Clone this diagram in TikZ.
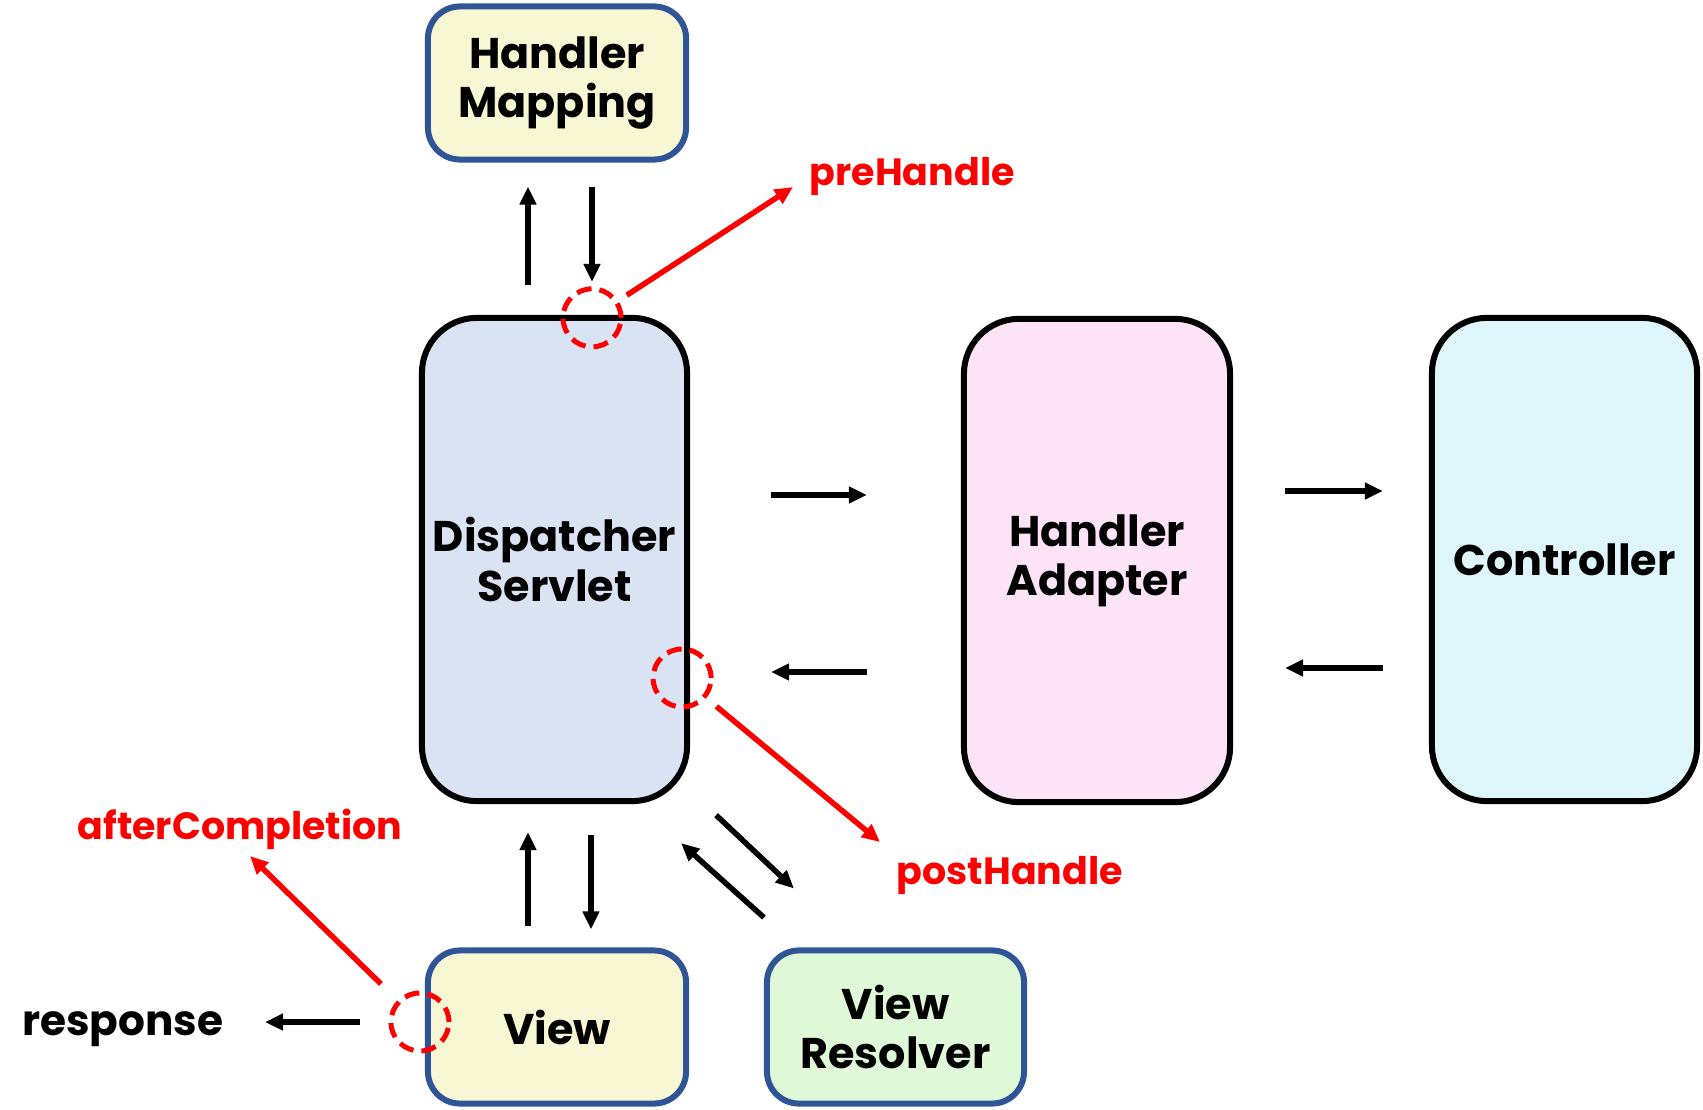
\documentclass[tikz,border=0pt]{standalone}
\usepackage{fontspec}
\setmainfont{Poppins}
\usepackage{xcolor}
\usetikzlibrary{calc,arrows.meta,positioning}
\definecolor{frameblue}{HTML}{2F5597}
\definecolor{fillyellow}{HTML}{F7F7D4}
\definecolor{fillblue}{HTML}{DAE3F3}
\definecolor{fillpink}{HTML}{FCE4F6}
\definecolor{fillcyan}{HTML}{DEF6FA}
\definecolor{fillgreen}{HTML}{DEF8D8}
\tikzset{
  tall/.style={ % image of a tall component box
    draw=black, line width=0.06cm, rectangle, rounded corners=0.55cm,
    minimum width=2.65cm, minimum height=4.83cm, inner sep=0pt,
    align=center, text=black, font=\bfseries\fontsize{12.2}{14}\selectfont
  },
  short/.style={  % image of a small component box
    tall, draw=frameblue, rounded corners=0.32cm,
    minimum width=2.58cm, minimum height=1.53cm
  },
  flow/.style={line width=0.055cm, -{Triangle[length=0.18cm,width=0.16cm]}},
  hook/.style={flow, red},
  spot/.style={  % dashed ring where an interceptor hooks in
    circle, draw=red, line width=0.05cm, dash pattern=on 0.15cm off 0.08cm,
    minimum size=0.58cm, inner sep=0pt
  },
  hooklabel/.style={text=red, inner sep=0pt, font=\bfseries\fontsize{10.8}{13}\selectfont}
}
\begin{document}
\begin{tikzpicture}[x=0.01cm, y=-0.01cm]
  \useasboundingbox (0,0) rectangle (1703,1109);

  \node[short, fill=fillyellow] (HM) at (557,83) {Handler\\Mapping};
  \node[tall, fill=fillblue] (DS) at (554.5,559.5) {Dispatcher\\Servlet};
  \node[tall, fill=fillpink, minimum width=2.66cm] (HA) at (1097,560.5) {Handler\\Adapter};
  \node[tall, fill=fillcyan] (C) at (1564.5,559.5) {Controller};
  \node[short, fill=fillyellow] (V) at (557,1027) {View};
  \node[short, fill=fillgreen, minimum width=2.57cm] (VR) at (895.5,1027) {View\\Resolver};

  \node[spot] (pre_spot) at ($(DS.north)+(37.5,3)$) {};
  \node[spot] (post_spot) at ($(DS.east)+(-8,118.5)$) {};
  \node[spot] (after_spot) at ($(V.west)+(-5,-5)$) {};

  \node[hooklabel, anchor=west] (pre_label) at (809,176) {preHandle};
  \node[hooklabel, anchor=west] (post_label) at (896,875) {postHandle};
  \node[hooklabel] (after_label) at (240,829) {afterCompletion};
  \node[inner sep=0pt, anchor=east, font=\bfseries\fontsize{12}{14}\selectfont] (resp) at (224,1029) {response};

  \draw[flow] ($(DS.north)+(-26.5,-30)$) -- ($(HM.south)+(-29,24)$);
  \draw[flow] ($(HM.south)+(35,24)$) -- ($(DS.north)+(37.5,-33)$);
  \draw[flow] ($(DS.east)+(81,-64.5)$) -- ($(HA.west)+(-94,-65.5)$);
  \draw[flow] ($(HA.west)+(-94,111.5)$) -- ($(DS.east)+(81,112.5)$);
  \draw[flow] ($(HA.east)+(52,-69.5)$) -- ($(C.west)+(-46,-68.5)$);
  \draw[flow] ($(C.west)+(-46,108.5)$) -- ($(HA.east)+(52,107.5)$);
  \draw[flow] ($(V.north)+(-29,-21)$) -- ($(DS.south)+(-26.5,28)$);
  \draw[flow] ($(DS.south)+(36.5,31)$) -- ($(V.north)+(34,-18)$);
  \draw[flow] ($(DS.south east)+(26,11)$) -- ($(VR.north west)+(30,-59)$);
  \draw[flow] ($(VR.north west)+(0,-30)$) -- ($(DS.south east)+(-9,39)$);
  \draw[flow, shorten <=0.28cm] (after_spot.west) -- (after_spot.west -| {$(resp.east)+(41,0)$});

  \draw[hook, shorten <=0.1cm] (pre_spot) -- ($(pre_label.west)+(-16,11)$);
  \draw[hook, shorten <=0.13cm] (post_spot) -- ($(post_label.west)+(-16,-33)$);
  \draw[hook, shorten <=0.23cm] (after_spot) -- ($(after_label)+(10,27)$);
\end{tikzpicture}
\end{document}
